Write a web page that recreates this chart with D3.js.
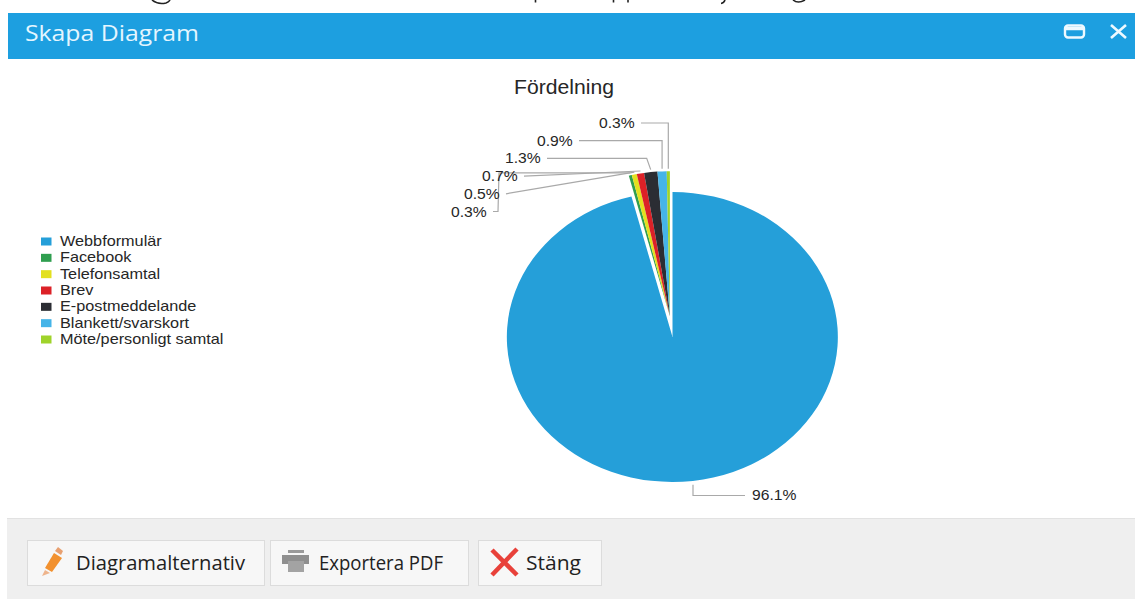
<!DOCTYPE html>
<html lang="sv">
<head>
<meta charset="utf-8">
<title>Skapa Diagram</title>
<script src="https://cdn.jsdelivr.net/npm/d3@7"></script>
<style>
  html, body { margin: 0; padding: 0; background: #fff; }
  svg { display: block; }
  .ui { font-family: "Open Sans", "Noto Sans", sans-serif; }
  .chart-text { font-family: "Liberation Sans", Arial, sans-serif; fill: #262626; }
</style>
</head>
<body>
<svg id="dialog" width="1135" height="599"></svg>
<script>
// Chart content
const categories = ["Webbformulär", "Facebook", "Telefonsamtal", "Brev", "E-postmeddelande", "Blankett/svarskort", "Möte/personligt samtal"];
const shares = [96.1, 0.3, 0.5, 0.7, 1.3, 0.9, 0.3];
const sliceColors = ["#259fd9", "#2f9e4f", "#e3e01f", "#dc2127", "#2b2d33", "#45b4e8", "#9fd32a"];
const chartTitle = "Fördelning";

// Dialog chrome
const dialogTitle = "Skapa Diagram";
const buttonLabels = ["Diagramalternativ", "Exportera PDF", "Stäng"];

const svg = d3.select("#dialog");

// Geometry of the plot: the pie is drawn on a unit circle and stretched to an ellipse
const cx = 672.5, cy = 337, rx = 165.5, ry = 145;
const explode = 21;
// The chart text runs wider than its height suggests
const textStretch = 1.12;

// Sets a text's advance to its natural width times a factor
function widen(selection, factor) {
  selection.each(function () {
    d3.select(this)
      .attr("textLength", this.getComputedTextLength() * factor)
      .attr("lengthAdjust", "spacingAndGlyphs");
  });
}

// Descenders of the line of text cut off above the dialog
svg.append("path")
  .attr("d", "M152,0Q158,5 166,3Q169,2 170,0M535.5,0V2.5M613.5,0V2.5M628,0V2.5M725,0Q724,3 721,3.5M793,0Q798,4 805,0")
  .attr("fill", "none").attr("stroke", "#222").attr("stroke-width", 1.6);

// Header bar
svg.append("rect").attr("x", 8).attr("y", 13).attr("width", 1127).attr("height", 46).attr("fill", "#1d9fe0");
svg.append("text").attr("class", "ui").attr("x", 25).attr("y", 41)
  .attr("font-size", 22).attr("fill", "#e4f6ff")
  .attr("textLength", 174).attr("lengthAdjust", "spacingAndGlyphs").text(dialogTitle);

// Window controls
svg.append("rect").attr("x", 1065).attr("y", 25.5).attr("width", 19).attr("height", 12).attr("rx", 3)
  .attr("fill", "none").attr("stroke", "#eef9ff").attr("stroke-width", 2.4);
svg.append("line").attr("x1", 1065).attr("x2", 1084).attr("y1", 28.5).attr("y2", 28.5)
  .attr("stroke", "#eef9ff").attr("stroke-width", 3.5);
svg.append("path").attr("d", "M1111,25L1126,38M1126,25L1111,38")
  .attr("stroke", "#eef9ff").attr("stroke-width", 2.6).attr("fill", "none");

// Footer
svg.append("rect").attr("x", 7).attr("y", 518).attr("width", 1128).attr("height", 81)
  .attr("fill", "#efefef");
svg.append("line").attr("x1", 7).attr("x2", 1135).attr("y1", 518.5).attr("y2", 518.5)
  .attr("stroke", "#e2e2e2");

// Title
svg.append("text").attr("class", "chart-text").attr("x", 514).attr("y", 94)
  .attr("font-size", 20).attr("textLength", 100).attr("lengthAdjust", "spacingAndGlyphs")
  .text(chartTitle);

// Pie slices
const pie = d3.pie().sort(null).value(d => d)(shares);
const arc = d3.arc().innerRadius(0).outerRadius(1);
const minor = pie.slice(1);
const minorMid = (minor[0].startAngle + minor[minor.length - 1].endAngle) / 2;
const dx = Math.sin(minorMid) * explode;
const dy = -Math.cos(minorMid) * explode;

const sliceLayer = svg.append("g");
const sliceGroups = sliceLayer.selectAll("g").data(pie).join("g")
  .attr("transform", (d, i) => `translate(${cx + (i ? dx : 0)},${cy + (i ? dy : 0)}) scale(${rx},${ry})`);
sliceGroups.append("path")
  .attr("d", arc)
  .attr("fill", (d, i) => sliceColors[i]);

// Outer midpoint of a slice on the stretched, exploded pie
function rim(d, i) {
  const a = (d.startAngle + d.endAngle) / 2;
  return [cx + (i ? dx : 0) + Math.sin(a) * rx, cy + (i ? dy : 0) - Math.cos(a) * ry];
}

// Value labels: the small slices stack upwards, each leader runs to its slice
const labelY = d3.scalePoint().domain([6, 5, 4, 3, 2, 1]).range([123, 211.5]);
const labelLeft = new Map([[6, 599], [5, 537], [4, 505], [3, 482], [2, 464], [1, 451]]);
const labelW = 36;

const leaderStroke = "#a9a9a9";
const labels = svg.append("g");
function label(i, x, y, pts) {
  labels.append("path").attr("d", d3.line()(pts))
    .attr("fill", "none").attr("stroke", leaderStroke).attr("stroke-width", 1.2);
  labels.append("text").attr("class", "chart-text").attr("x", x).attr("y", y + 5)
    .attr("font-size", 14.5).text(shares[i].toFixed(1) + "%")
    .call(widen, 1.08);
}
pie.forEach((d, i) => {
  const [px, py] = rim(d, i);
  if (i === 0) {
    const y = 495.5, x = 752;
    label(i, x, y - 1, [[x - 7, y], [693, y], [693, py + 4]]);
    return;
  }
  const y = labelY(i), x = labelLeft.get(i), sx = x + labelW + 6;
  const end = [px, py - 2.5];
  if (i >= 5) label(i, x, y, [[sx, y], [px, y], end]);
  else if (i === 4) label(i, x, y, [[sx, y], [px - 4, y], end]);
  else if (i === 1) label(i, x, y, [[sx, y], [sx + 5, y], [sx + 6, end[1]], end]);
  else label(i, x, y, [[sx, y], end]);
});

// Legend
const legendY = d3.scalePoint().domain(d3.range(categories.length)).range([241, 339]);
const legend = svg.append("g").selectAll("g").data(categories).join("g")
  .attr("transform", (d, i) => `translate(41,${legendY(i)})`);
legend.append("rect").attr("y", -3.5).attr("width", 10.5).attr("height", 8)
  .attr("fill", (d, i) => sliceColors[i]);
legend.append("text").attr("class", "chart-text").attr("x", 19).attr("y", 5)
  .attr("font-size", 14.5).text(d => d)
  .call(widen, textStretch);

// Footer buttons
const buttonX = [27, 270, 478], buttonW = [237, 198, 123];
const buttonTextX = [49, 49, 48], buttonTextW = [169, 124, 55];
const buttons = svg.append("g").selectAll("g").data(buttonLabels).join("g")
  .attr("transform", (d, i) => `translate(${buttonX[i]},540)`);
buttons.append("rect").attr("x", 0.5).attr("y", 0.5).attr("width", (d, i) => buttonW[i])
  .attr("height", 45).attr("fill", "#f7f7f7").attr("stroke", "#dcdcdc");
buttons.append("text").attr("class", "ui").attr("x", (d, i) => buttonTextX[i]).attr("y", 30)
  .attr("font-size", 19.5).attr("fill", "#222")
  .attr("textLength", (d, i) => buttonTextW[i]).attr("lengthAdjust", "spacingAndGlyphs")
  .text(d => d);

const icons = svg.append("g");

// Pencil icon
icons.append("path").attr("d", "M54,553L62,558L52,572L45,568Z").attr("fill", "#f2912f");
icons.append("path").attr("d", "M55,551L58,547L63,551L61,555Z").attr("fill", "#e8a070");
icons.append("path").attr("d", "M45,570L50,573L42,576Z").attr("fill", "#eeb48c");

// Printer icon
icons.append("rect").attr("x", 288).attr("y", 550).attr("width", 16).attr("height", 3).attr("fill", "#9a9a9a");
icons.append("rect").attr("x", 282).attr("y", 555).attr("width", 27).attr("height", 9).attr("fill", "#8f8f8f");
icons.append("rect").attr("x", 288).attr("y", 561).attr("width", 16).attr("height", 11).attr("fill", "#a3a3a3");

// Close icon
icons.append("path").attr("d", "M492,550L517,575M517,549L492,575")
  .attr("stroke", "#e8413a").attr("stroke-width", 4.5).attr("fill", "none");
</script>
</body>
</html>
